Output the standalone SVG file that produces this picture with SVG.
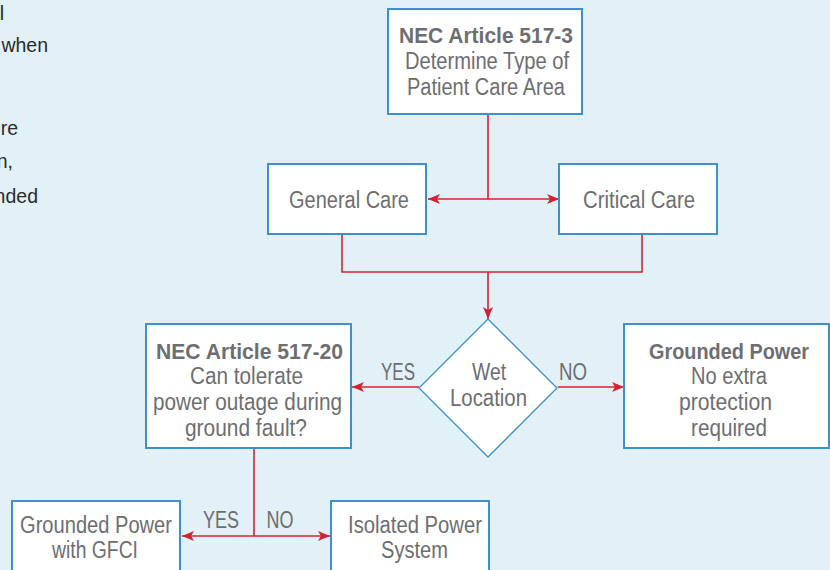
<svg xmlns="http://www.w3.org/2000/svg" width="830" height="570" viewBox="0 0 830 570">
<defs>
<style>
.bg{fill:#e1f1f7}
.box{fill:#ffffff;stroke:#3d8fd1;stroke-width:2}
.dia{fill:#ffffff;stroke:#3d8fd1;stroke-width:1.3}
.t{font-family:"Liberation Sans",Arial,sans-serif;font-size:23px;fill:#6d6e71;text-anchor:middle}
.b{font-weight:bold;font-size:22px}
.side{font-family:"Liberation Sans",Arial,sans-serif;font-size:19.5px;fill:#2b2b2b;text-anchor:end}
.c{fill:none;stroke:#d42330;stroke-width:1.6}
</style>
<marker id="ah" viewBox="0 0 12 10" refX="12" refY="5" markerWidth="12" markerHeight="10" markerUnits="userSpaceOnUse" orient="auto">
<path d="M0,0 L12,5 L0,10 L3,5 z" fill="#d42330"/>
</marker>
</defs>
<rect class="bg" x="0" y="0" width="830" height="570"/>
<g id="side-text">
<text class="side" x="4" y="20">l</text>
<text class="side" x="48" y="52">when</text>
<text class="side" x="18" y="135">re</text>
<text class="side" x="13" y="168">n,</text>
<text class="side" x="38" y="203">nded</text>
</g>
<g id="connectors">
<path class="c" d="M488,114 V199"/>
<path class="c" d="M488,199 H428" marker-end="url(#ah)"/>
<path class="c" d="M488,199 H559" marker-end="url(#ah)"/>
<path class="c" d="M342,234 V272 H642 V234"/>
<path class="c" d="M488,272 V319" marker-end="url(#ah)"/>
<path class="c" d="M419,387 H352" marker-end="url(#ah)"/>
<path class="c" d="M558,387 H624" marker-end="url(#ah)"/>
<path class="c" d="M254,448 V536"/>
<path class="c" d="M254,536 H182" marker-end="url(#ah)"/>
<path class="c" d="M254,536 H330" marker-end="url(#ah)"/>
<text class="t" x="398" y="380" textLength="34" lengthAdjust="spacingAndGlyphs">YES</text>
<text class="t" x="573" y="380" textLength="28" lengthAdjust="spacingAndGlyphs">NO</text>
<text class="t" x="221" y="528" textLength="36" lengthAdjust="spacingAndGlyphs">YES</text>
<text class="t" x="280" y="528" textLength="27" lengthAdjust="spacingAndGlyphs">NO</text>
</g>
<g id="nec-517-3">
<rect class="box" x="388" y="9" width="194" height="105"/>
<text class="t b" x="486" y="43" textLength="174" lengthAdjust="spacingAndGlyphs">NEC Article 517-3</text>
<text class="t" x="487" y="69" textLength="164" lengthAdjust="spacingAndGlyphs">Determine Type of</text>
<text class="t" x="486" y="95" textLength="158" lengthAdjust="spacingAndGlyphs">Patient Care Area</text>
</g>
<g id="general-care">
<rect class="box" x="268" y="164" width="158" height="70"/>
<text class="t" x="349" y="208" textLength="120" lengthAdjust="spacingAndGlyphs">General Care</text>
</g>
<g id="critical-care">
<rect class="box" x="559" y="164" width="158" height="70"/>
<text class="t" x="639" y="208" textLength="112" lengthAdjust="spacingAndGlyphs">Critical Care</text>
</g>
<g id="wet-location">
<path class="dia" d="M488,319 L557,388 L488,457 L419,388 z"/>
<text class="t" x="489" y="380" textLength="34" lengthAdjust="spacingAndGlyphs">Wet</text>
<text class="t" x="488.5" y="406" textLength="77" lengthAdjust="spacingAndGlyphs">Location</text>
</g>
<g id="nec-517-20">
<rect class="box" x="146" y="324" width="205" height="124"/>
<text class="t b" x="249.5" y="359" textLength="187" lengthAdjust="spacingAndGlyphs">NEC Article 517-20</text>
<text class="t" x="246.5" y="384" textLength="113" lengthAdjust="spacingAndGlyphs">Can tolerate</text>
<text class="t" x="247.5" y="410" textLength="189" lengthAdjust="spacingAndGlyphs">power outage during</text>
<text class="t" x="246" y="436" textLength="122" lengthAdjust="spacingAndGlyphs">ground fault?</text>
</g>
<g id="grounded-power">
<rect class="box" x="624" y="324" width="205" height="124"/>
<text class="t b" x="729" y="359" textLength="160" lengthAdjust="spacingAndGlyphs">Grounded Power</text>
<text class="t" x="729" y="384" textLength="76" lengthAdjust="spacingAndGlyphs">No extra</text>
<text class="t" x="725.5" y="410" textLength="93" lengthAdjust="spacingAndGlyphs">protection</text>
<text class="t" x="729" y="436" textLength="76" lengthAdjust="spacingAndGlyphs">required</text>
</g>
<g id="grounded-gfci">
<rect class="box" x="12" y="501" width="168" height="80"/>
<text class="t" x="96" y="533" textLength="152" lengthAdjust="spacingAndGlyphs">Grounded Power</text>
<text class="t" x="95" y="558" textLength="86" lengthAdjust="spacingAndGlyphs">with GFCI</text>
</g>
<g id="isolated-power">
<rect class="box" x="331" y="501" width="158" height="80"/>
<text class="t" x="415" y="533" textLength="134" lengthAdjust="spacingAndGlyphs">Isolated Power</text>
<text class="t" x="414.5" y="558" textLength="67" lengthAdjust="spacingAndGlyphs">System</text>
</g>
</svg>
